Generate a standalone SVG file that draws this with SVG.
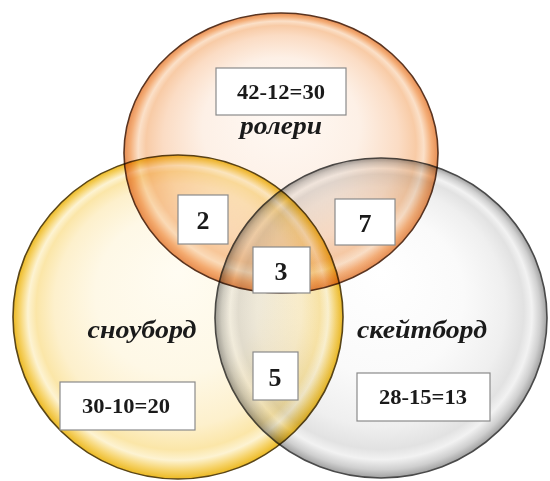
<svg xmlns="http://www.w3.org/2000/svg" width="550" height="481" viewBox="0 0 550 481">
<defs>
<radialGradient id="gOr" cx="0.5" cy="0.5" r="0.5" fx="0.5" fy="0.32">
<stop offset="0" stop-color="#fffaf6"/>
<stop offset="0.5" stop-color="#fdf0e6"/>
<stop offset="0.75" stop-color="#fbdcc4"/>
<stop offset="0.86" stop-color="#f8cba6"/>
<stop offset="0.91" stop-color="#fbe0c8"/>
<stop offset="0.96" stop-color="#f4ae78"/>
<stop offset="1" stop-color="#e68e54"/>
</radialGradient>
<radialGradient id="gYe" cx="0.5" cy="0.5" r="0.5" fx="0.5" fy="0.36">
<stop offset="0" stop-color="#fffcf2"/>
<stop offset="0.5" stop-color="#fef8e6"/>
<stop offset="0.75" stop-color="#fdf0cc"/>
<stop offset="0.86" stop-color="#fbe6a8"/>
<stop offset="0.91" stop-color="#fdf3d2"/>
<stop offset="0.96" stop-color="#f6d36a"/>
<stop offset="1" stop-color="#ecb922"/>
</radialGradient>
<radialGradient id="gGr" cx="0.5" cy="0.5" r="0.5" fx="0.5" fy="0.36">
<stop offset="0" stop-color="#ffffff"/>
<stop offset="0.5" stop-color="#fafafa"/>
<stop offset="0.75" stop-color="#efefef"/>
<stop offset="0.86" stop-color="#e2e2e2"/>
<stop offset="0.91" stop-color="#f2f2f2"/>
<stop offset="0.96" stop-color="#cfcfcf"/>
<stop offset="1" stop-color="#a0a0a0"/>
</radialGradient>
</defs>
<style>
.set{mix-blend-mode:multiply;stroke-width:1.6}
.box{fill:#ffffff;stroke:#8a8a8a;stroke-width:1.2}
.eq{font-family:"Liberation Serif",serif;font-weight:bold;font-size:20px;fill:#1a1a1a;text-anchor:middle}
.num{font-family:"Liberation Serif",serif;font-weight:bold;font-size:26px;fill:#1a1a1a;text-anchor:middle}
.lbl{font-family:"Liberation Serif",serif;font-weight:bold;font-style:italic;font-size:25px;fill:#1a1a1a;text-anchor:middle}
</style>
<rect width="550" height="481" fill="#ffffff"/>
<g id="sets">
<ellipse id="set-skateboard" class="set" cx="381" cy="318" rx="166" ry="160" fill="url(#gGr)" stroke="#4a4a4a"/>
<ellipse id="set-snowboard" class="set" cx="178" cy="317" rx="165" ry="162" fill="url(#gYe)" stroke="#5a4618"/>
<ellipse id="set-rollers" class="set" cx="281" cy="153" rx="157" ry="140" fill="url(#gOr)" stroke="#5a3420"/>
</g>
<g id="node-rollers">
<rect class="box" x="216" y="68" width="130" height="47"/>
<text class="eq" x="281" y="99" textLength="88" lengthAdjust="spacingAndGlyphs">42-12=30</text>
<text class="lbl" x="281" y="134" textLength="82" lengthAdjust="spacingAndGlyphs">ролери</text>
</g>
<g id="node-snowboard">
<text class="lbl" x="142" y="338" textLength="109" lengthAdjust="spacingAndGlyphs">сноуборд</text>
<rect class="box" x="60" y="382" width="135" height="48"/>
<text class="eq" x="126" y="413" textLength="88" lengthAdjust="spacingAndGlyphs">30-10=20</text>
</g>
<g id="node-skateboard">
<text class="lbl" x="422" y="338" textLength="130" lengthAdjust="spacingAndGlyphs">скейтборд</text>
<rect class="box" x="357" y="373" width="133" height="48"/>
<text class="eq" x="423" y="404" textLength="88" lengthAdjust="spacingAndGlyphs">28-15=13</text>
</g>
<g id="node-2">
<rect class="box" x="178" y="195" width="50" height="49"/>
<text class="num" x="203" y="229">2</text>
</g>
<g id="node-7">
<rect class="box" x="335" y="199" width="60" height="46"/>
<text class="num" x="365" y="232">7</text>
</g>
<g id="node-3">
<rect class="box" x="253" y="247" width="57" height="46"/>
<text class="num" x="281" y="280">3</text>
</g>
<g id="node-5">
<rect class="box" x="253" y="352" width="45" height="48"/>
<text class="num" x="275" y="386">5</text>
</g>
<g id="connectors"/>
</svg>
